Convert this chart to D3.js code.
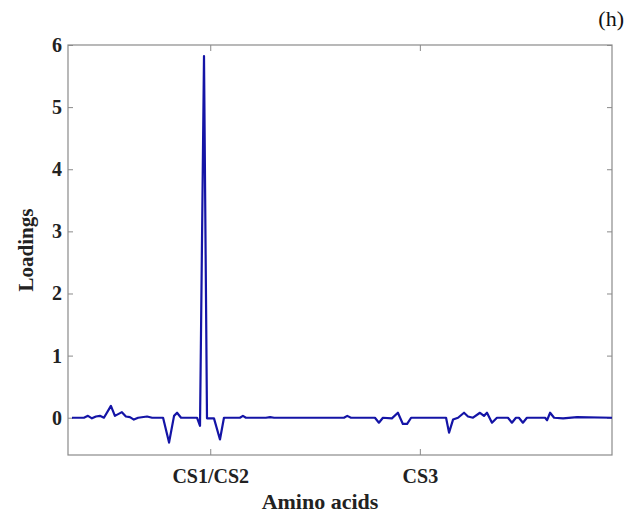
<!DOCTYPE html>
<html>
<head>
<meta charset="utf-8">
<script src="https://cdn.jsdelivr.net/npm/d3@7"></script>
<style>
  body { margin: 0; background: #fff; }
  text { font-family: "Liberation Serif", "Times New Roman", serif; }
</style>
</head>
<body>
<div id="chart"></div>
<script>
// data (position along the sequence, loading)
var positions = [1.6, 6.4, 8.0, 9.6, 11.2, 12.8, 14.4, 17.2, 18.8, 21.6, 23.2, 24.8, 26.4, 28.1,
  31.7, 33.7, 38.1, 40.5, 42.5, 43.7, 45.3, 51.7, 52.9, 54.5, 55.7, 58.5, 60.9, 62.5,
  68.9, 70.1, 71.3, 79.3, 81.0, 82.6, 110.6, 111.9, 113.4, 123.0, 124.6, 126.2, 129.8,
  132.2, 134.2, 135.9, 137.5, 151.5, 152.7, 154.3, 156.3, 158.7, 160.3, 162.3, 165.1,
  166.7, 167.9, 169.9, 171.9, 176.3, 177.9, 179.5, 180.7, 182.3, 183.9, 191.2, 192.0,
  193.2, 194.8, 198.4, 204.0, 218];
var loadings = [0, 0, 0.03, -0.01, 0.02, 0.03, 0, 0.19, 0.03, 0.09, 0.02, 0.01, -0.03, 0,
  0.02, 0, 0, -0.4, 0.03, 0.08, 0, 0, -0.13, 5.82, -0.01, -0.01, -0.35, 0,
  0, 0.03, 0, 0, 0.01, 0, 0, 0.03, 0, 0, -0.08, 0, -0.01,
  0.08, -0.1, -0.1, 0, 0, -0.24, -0.03, 0, 0.08, 0.02, 0, 0.08,
  0.03, 0.08, -0.08, 0, 0, -0.08, 0, 0, -0.08, 0, 0, -0.04,
  0.08, 0, -0.01, 0.01, 0];
var xTickPos = [57, 141];
var xTickLabels = ["CS1/CS2", "CS3"];
var yTicks = [0, 1, 2, 3, 4, 5, 6];

var W = 631, H = 517;
var m = {left: 68, right: 19, top: 45, bottom: 62};
var iw = W - m.left - m.right, ih = H - m.top - m.bottom;

var svg = d3.select("#chart").append("svg").attr("width", W).attr("height", H);
var g = svg.append("g").attr("transform", "translate(" + m.left + "," + m.top + ")");

var x = d3.scaleLinear().domain([0, 218]).range([0, iw]);
var y = d3.scaleLinear().domain([-0.6, 6]).range([ih, 0]);

var axisColor = "#8a8a8a";

// frame
g.append("rect").attr("width", iw).attr("height", ih)
  .attr("fill", "none").attr("stroke", axisColor).attr("stroke-width", 1.2);

// y axis (ticks inside)
var ya = g.append("g").call(d3.axisLeft(y).tickValues(yTicks).tickSize(-5).tickPadding(6).tickFormat(d3.format("d")));
ya.select(".domain").remove();
ya.selectAll("line").attr("stroke", axisColor);
ya.selectAll("text").attr("font-size", 20).attr("font-weight", "bold").attr("fill", "#222")
  .attr("font-family", "Liberation Serif");
var yr = g.append("g").attr("transform", "translate(" + iw + ",0)")
  .call(d3.axisRight(y).tickValues(yTicks).tickSize(-5).tickFormat(""));
yr.select(".domain").remove();
yr.selectAll("line").attr("stroke", axisColor);

// x axis (ticks inside, mirrored on top)
var xa = g.append("g").attr("transform", "translate(0," + ih + ")")
  .call(d3.axisBottom(x).tickValues(xTickPos).tickSize(-6).tickPadding(14)
    .tickFormat(function(d, i){ return xTickLabels[i]; }));
xa.select(".domain").remove();
xa.selectAll("line").attr("stroke", axisColor);
xa.selectAll("text").attr("font-size", 20).attr("font-weight", "bold").attr("fill", "#222")
  .attr("font-family", "Liberation Serif");
var xt = g.append("g").call(d3.axisTop(x).tickValues(xTickPos).tickSize(-6).tickFormat(""));
xt.select(".domain").remove();
xt.selectAll("line").attr("stroke", axisColor);

// line
var pts = positions.map(function(p, i){ return [p, loadings[i]]; });
g.append("path").datum(pts)
  .attr("fill", "none").attr("stroke", "#1414a6").attr("stroke-width", 2.2)
  .attr("stroke-linejoin", "round")
  .attr("d", d3.line().x(function(d){ return x(d[0]); }).y(function(d){ return y(d[1]); }));

// labels
svg.append("text").attr("x", 320).attr("y", 509).attr("text-anchor", "middle")
  .attr("font-size", 22).attr("font-weight", "bold").attr("fill", "#222").text("Amino acids");
svg.append("text").attr("transform", "translate(33," + (m.top + ih / 2) + ") rotate(-90)")
  .attr("text-anchor", "middle").attr("font-size", 21).attr("font-weight", "bold")
  .attr("fill", "#222").text("Loadings");
svg.append("text").attr("x", 624).attr("y", 26).attr("text-anchor", "end")
  .attr("font-size", 22).attr("fill", "#111").text("(h)");
</script>
</body>
</html>
